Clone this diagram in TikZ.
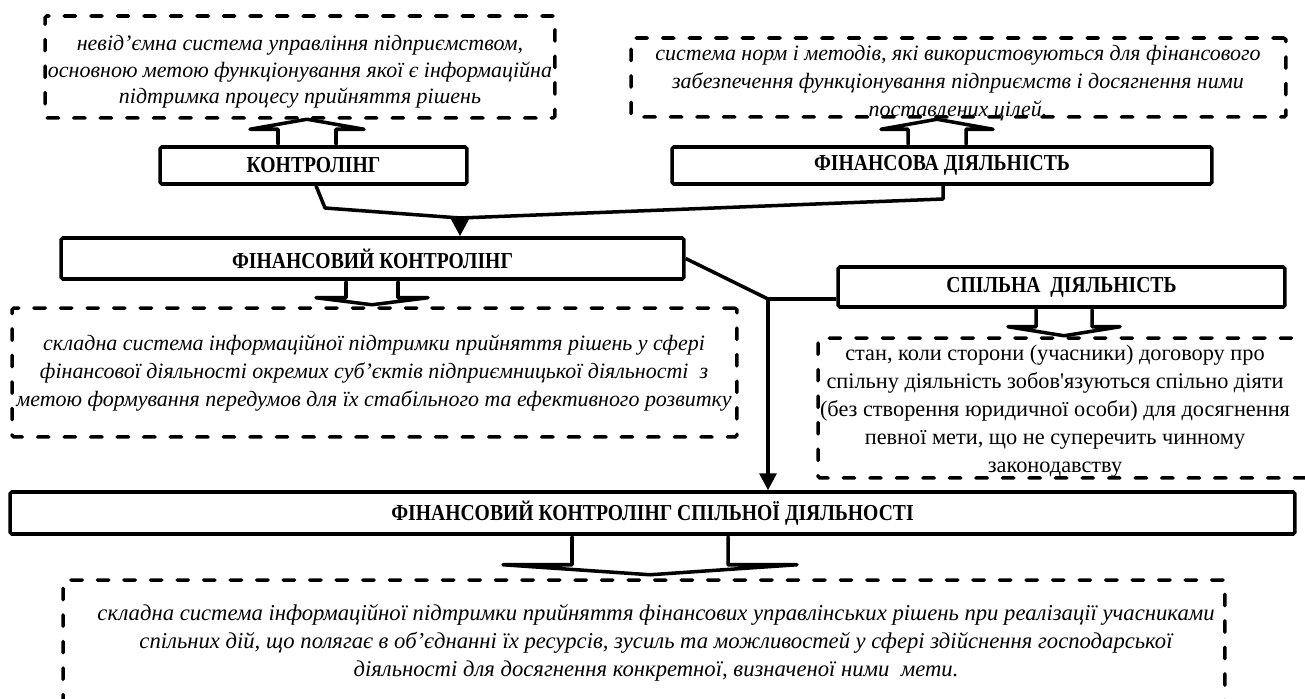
\documentclass[tikz,border=0pt]{standalone}
\usepackage{fontspec}
\setmainfont{Liberation Serif}
\newfontfamily\termfont{Liberation Serif}[FakeStretch=0.86]
\usetikzlibrary{arrows.meta, calc}

\begin{document}
\begin{tikzpicture}[x=0.02cm, y=-0.02cm,
  termbox/.style={draw, line width=2pt, rounded corners=1pt, inner sep=0pt, font=\termfont\fontsize{13}{15}\selectfont\bfseries},
  dashbox/.style={draw, line width=2pt, line cap=round, rounded corners=1pt, dash pattern=on 6.5pt off 8.6pt, inner sep=0pt},
  defn/.style={align=center, inner sep=0pt, font=\fontsize{12.5}{16}\selectfont\itshape},
  conn/.style={line width=2pt, line join=round},
  blockarrow/.style={draw, fill=white, line width=2pt, line join=round, line cap=round},
  headtip/.style={-{Triangle[length=0.34cm, width=0.34cm]}}
]
  \useasboundingbox (0,0) rectangle (1305,699);

  % Definitions at the top
  \node[dashbox, minimum width=10.2cm, minimum height=2.04cm] (defkontr) at (300,67) {};
  \node[defn, font=\fontsize{12.5}{15}\selectfont\itshape] (defkontrtext) at (300,72) {
    невід’ємна система управління підприємством,\\
    основною метою функціонування якої є інформаційна\\
    підтримка процесу прийняття рішень
  };

  \node[dashbox, minimum width=13.1cm, minimum height=1.58cm] (deffin) at (958.5,77.5) {};
  \node[defn] (deffintext) at (958,83) {
    система норм і методів, які використовуються для фінансового\\
    забезпечення функціонування підприємств і досягнення ними\\
    поставлених цілей.
  };

  % Terms
  \node[termbox, minimum width=6.14cm, minimum height=0.74cm] (kontr) at (313.5,165.5) {КОНТРОЛІНГ};
  \node[termbox, minimum width=10.8cm, minimum height=0.74cm] (findiyal) at (942,165.5) {ФІНАНСОВА ДІЯЛЬНІСТЬ};
  \node[termbox, minimum width=12.46cm, minimum height=0.82cm] (finkontr) at (372.5,258.5) {ФІНАНСОВИЙ КОНТРОЛІНГ};
  \node[termbox, minimum width=8.94cm, minimum height=0.8cm] (spildiyal) at (1061.5,287) {СПІЛЬНА\ \ ДІЯЛЬНІСТЬ};
  \node[termbox, minimum width=25.7cm, minimum height=0.84cm] (finkontrsd) at (652.5,513) {ФІНАНСОВИЙ КОНТРОЛІНГ СПІЛЬНОЇ ДІЯЛЬНОСТІ};

  % Middle definitions
  \node[dashbox, minimum width=14.5cm, minimum height=2.58cm] (deffk) at (374.5,372.5) {};
  \node[defn] (deffktext) at (374,373) {
    складна система інформаційної підтримки прийняття рішень у сфері\\
    фінансової діяльності окремих суб’єктів підприємницької діяльності\ \ з\\
    метою формування передумов для їх стабільного та ефективного розвитку
  };

  \node[dashbox, minimum width=10.04cm, minimum height=2.8cm] (defspil) at (1069,408) {};
  \node[defn, font=\fontsize{12.7}{16}\selectfont] (defspiltext) at (1055,411) {
    стан, коли сторони (учасники) договору про\\
    спільну діяльність зобов\textquotesingle язуються спільно діяти\\
    (без створення юридичної особи) для досягнення\\
    певної мети, що не суперечить чинному\\
    законодавству
  };

  % Bottom definition
  \node[dashbox, minimum width=23.24cm, minimum height=3.6cm] (deffksd) at (644,670) {};
  \node[defn, font=\fontsize{12.9}{16}\selectfont\itshape] (deffksdtext) at (656,643) {
    складна система інформаційної підтримки прийняття фінансових управлінських рішень при реалізації учасниками\\
    спільних дій, що полягає в об’єднанні їх ресурсів, зусиль та можливостей у сфері здійснення господарської\\
    діяльності для досягнення конкретної, визначеної ними\ \ мети.
  };

  % Block arrows to the definitions
  \draw[blockarrow] (278,0 |- kontr.north) ++(0,-1) -- ++(0,-15) -- ++(-28,0) -- ++(57,-10) -- ++(57,10) -- ++(-28,0) -- ++(0,15);
  \draw[blockarrow] (908,0 |- findiyal.north) ++(0,-1) -- ++(0,-15) -- ++(-27,0) -- ++(56,-10) -- ++(56,10) -- ++(-27,0) -- ++(0,15);
  \draw[blockarrow] (346,0 |- finkontr.south) ++(0,1) -- ++(0,16) -- ++(-30,0) -- ++(56,7) -- ++(56,-7) -- ++(-30,0) -- ++(0,-16);
  \draw[blockarrow] (1036,0 |- spildiyal.south) ++(0,1) -- ++(0,17) -- ++(-28,0) -- ++(56,9) -- ++(56,-9) -- ++(-28,0) -- ++(0,-17);
  \draw[blockarrow] (572,0 |- finkontrsd.south) ++(0,1) -- ++(0,28) -- ++(-69,0) -- ++(147,10) -- ++(147,-10) -- ++(-69,0) -- ++(0,-28);

  % Connectors
  \coordinate (bendk) at (325,208);
  \coordinate (bendf) at (943,199);
  \coordinate (merge) at (460,218);
  \coordinate (split) at (768,299);
  \draw[conn] (316,0 |- kontr.south) -- (bendk) -- (merge);
  \draw[conn] (bendf |- findiyal.south) -- (bendf) -- (merge);
  \draw[conn, headtip] (merge) -- (merge |- finkontr.north);
  \draw[conn] (finkontr.east) -- (split) -- (split -| spildiyal.west);
  \draw[conn, headtip] (split) -- (split |- finkontrsd.north);
\end{tikzpicture}
\end{document}
